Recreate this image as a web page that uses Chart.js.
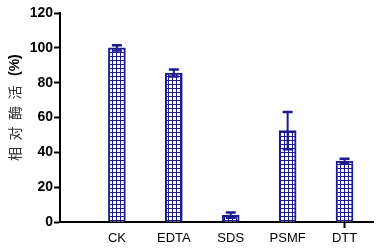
<!DOCTYPE html>
<html>
<head>
<meta charset="utf-8">
<script src="https://cdn.jsdelivr.net/npm/chart.js@4"></script>
<style>
  html, body { margin: 0; padding: 0; background: #fff; }
  #wrap { width: 377px; height: 248px; }
</style>
</head>
<body>
<div id="wrap"><canvas id="myChart"></canvas></div>
<script>
// Relative enzyme activity after different treatments

const categories = ["CK", "EDTA", "SDS", "PSMF", "DTT"];
const activity = [100, 85.5, 4, 52.5, 35];
const errors = [1.5, 2, 1.5, 10.7, 1.3];
const yTicks = [0, 20, 40, 60, 80, 100, 120];
const yTitleWords = ["相", "对", "酶", "活"];
const yTitleUnit = "(%)";

const navy = "#1c1c8e";

// grid hatch fill
function makeHatch() {
  const c = document.createElement("canvas");
  c.width = 4;
  c.height = 4;
  const g = c.getContext("2d");
  g.fillStyle = "#fff";
  g.fillRect(0, 0, 4, 4);
  g.fillStyle = navy;
  g.fillRect(0, 0, 4, 1);
  g.fillRect(0, 0, 1, 4);
  return g.createPattern(c, "repeat");
}

const errorBars = {
  id: "errorBars",
  afterDatasetsDraw(chart) {
    const ctx = chart.ctx;
    const y = chart.scales.y;
    const meta = chart.getDatasetMeta(0);
    ctx.save();
    ctx.strokeStyle = navy;
    meta.data.forEach((bar, i) => {
      const top = y.getPixelForValue(activity[i] + errors[i]);
      const bot = y.getPixelForValue(activity[i] - errors[i]);
      ctx.lineWidth = 2;
      ctx.beginPath();
      ctx.moveTo(bar.x, top);
      ctx.lineTo(bar.x, bot);
      ctx.stroke();
      ctx.lineWidth = 2.5;
      ctx.beginPath();
      ctx.moveTo(bar.x - 5, top);
      ctx.lineTo(bar.x + 5, top);
      ctx.moveTo(bar.x - 5, bot);
      ctx.lineTo(bar.x + 5, bot);
      ctx.stroke();
    });
    ctx.restore();
  },
};

// vertical axis title, Chinese with a bold unit
const yTitle = {
  id: "yTitle",
  afterDraw(chart) {
    const ctx = chart.ctx;
    ctx.save();
    ctx.translate(15, 161);
    ctx.rotate(-Math.PI / 2);
    ctx.textBaseline = "middle";
    ctx.textAlign = "left";
    ctx.fillStyle = "#333";
    ctx.font = "14px 'Noto Sans CJK SC'";
    yTitleWords.forEach((w, i) => ctx.fillText(w, i * 20.5, 0));
    ctx.fillStyle = "#000";
    ctx.font = "bold 14px 'Liberation Sans'";
    ctx.fillText(yTitleUnit, 4 * 20.5 + 3, 0);
    ctx.restore();
  },
};

const ctx = document.querySelector("#myChart");

const data = {
  datasets: [
    {
      label: "相对酶活",
      data: categories.map((c, i) => ({ x: i + 1, y: activity[i] })),
      backgroundColor: makeHatch(),
      borderColor: navy,
      borderWidth: 2,
      borderSkipped: "bottom",
      barThickness: 17,
    },
  ],
};

const options = {
  responsive: true,
  maintainAspectRatio: false,
  animation: false,
  layout: { padding: { top: 13, right: 4, left: 4 } },
  plugins: {
    legend: { display: false },
    tooltip: { enabled: false },
  },
  scales: {
    x: {
      type: "linear",
      offset: false,
      min: 0,
      max: 5.5,
      afterBuildTicks: (scale) => {
        scale.ticks = categories.map((c, i) => ({ value: i + 1 }));
      },
      afterFit: (scale) => {
        scale.height = 26;
      },
      grid: {
        offset: false,
        drawOnChartArea: false,
        tickLength: 6,
        tickColor: (c) => (c.index === categories.length - 1 ? "#000" : "rgba(0,0,0,0)"),
        tickWidth: 2,
      },
      border: { color: "#000", width: 2 },
      ticks: {
        autoSkip: false,
        maxRotation: 0,
        padding: 3,
        color: "#000",
        font: { family: "Liberation Sans", size: 13 },
        callback: (v) => categories[v - 1] || "",
      },
    },
    y: {
      min: 0,
      max: 120,
      afterBuildTicks: (scale) => {
        scale.ticks = yTicks.map((v) => ({ value: v }));
      },
      afterFit: (scale) => {
        scale.width = 56;
      },
      grid: {
        drawOnChartArea: false,
        tickLength: 6,
        tickColor: "#000",
        tickWidth: 2,
      },
      border: { color: "#000", width: 2 },
      ticks: {
        padding: 1,
        color: "#000",
        font: { family: "Liberation Sans", size: 14, weight: "bold" },
      },
    },
  },
};

const config = {
  type: "bar",
  data: data,
  options: options,
  plugins: [errorBars, yTitle],
};

const chart = new Chart(ctx, config);
</script>
</body>
</html>
